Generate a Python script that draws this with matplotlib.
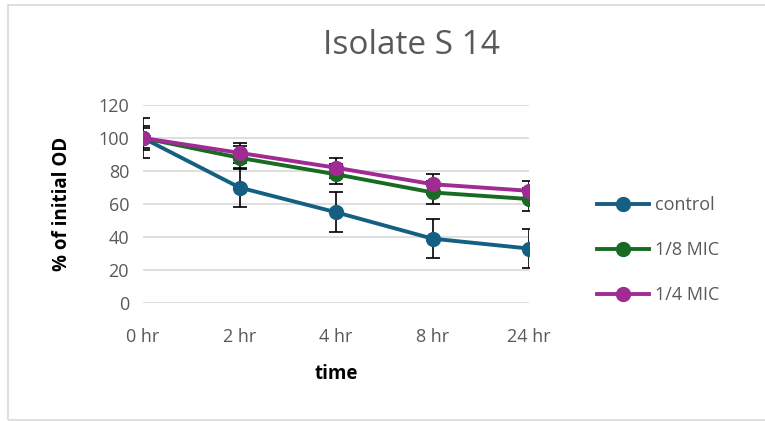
import matplotlib.pyplot as plt
from matplotlib.patches import Rectangle
from matplotlib.lines import Line2D

plt.rcParams['font.family'] = ['Open Sans', 'DejaVu Sans']

times = ['0 hr', '2 hr', '4 hr', '8 hr', '24 hr']
control = [100, 70, 55, 39, 33]
control_err = [12, 12, 12, 12, 12]
mic_8 = [100, 88, 78, 67, 63]
mic_8_err = [7, 7, 6, 7, 7]
mic_4 = [100, 91, 82, 72, 68]
mic_4_err = [6, 6, 6, 6, 6]

series = [
    ('control', control, control_err, '#156082'),
    ('1/8 MIC', mic_8, mic_8_err, '#196B24'),
    ('1/4 MIC', mic_4, mic_4_err, '#A02B93'),
]

fig = plt.figure(figsize=(7.65, 4.21), dpi=100)
ax = fig.add_axes([143 / 765, 1 - 303 / 421, (529 - 143) / 765, (303 - 105) / 421])

x = list(range(len(times)))
handles = []
for name, vals, err, col in series:
    ax.errorbar(x, vals, yerr=err, color=col, marker='o', markersize=10,
                linewidth=2.8, ecolor='black', elinewidth=1.2, capsize=5,
                capthick=1.2, zorder=3)
    handles.append(Line2D([], [], color=col, marker='o', markersize=10,
                          linewidth=2.8, label=name))

ax.set_xlim(0, 4)
ax.set_ylim(0, 120)
ax.set_yticks(range(0, 121, 20))
ax.set_xticks(x)
ax.set_xticklabels(times)
ax.grid(axis='y', color='#d9d9d9', linewidth=1.2, zorder=0)
ax.set_axisbelow(True)
for s in ax.spines.values():
    s.set_visible(False)
ax.tick_params(length=0, labelsize=13, labelcolor='#595959', pad=18)
ax.tick_params(axis='y', pad=10)
ax.set_ylabel('% of initial OD', fontsize=13.5, fontweight='bold', labelpad=19)
ax.set_xlabel('time', fontsize=13.5, fontweight='bold', labelpad=13)

fig.text(411 / 765, 1 - 45 / 421, 'Isolate S 14', ha='center', va='center',
         fontsize=24, color='#595959')

ax.legend(handles=handles, loc='upper left',
          bbox_to_anchor=(588 / 765, 1 - 187 / 421),
          bbox_transform=fig.transFigure, frameon=False, fontsize=13,
          labelcolor='#595959', handlelength=2.9, handletextpad=0.3,
          labelspacing=1.5, borderpad=0)

fig.patches.append(Rectangle((8 / 765, 1 / 421), 1.0, 1 - 6 / 421,
                             transform=fig.transFigure, fill=False,
                             edgecolor='#d9d9d9', linewidth=1.2))

fig.savefig('out.png', dpi=100)
